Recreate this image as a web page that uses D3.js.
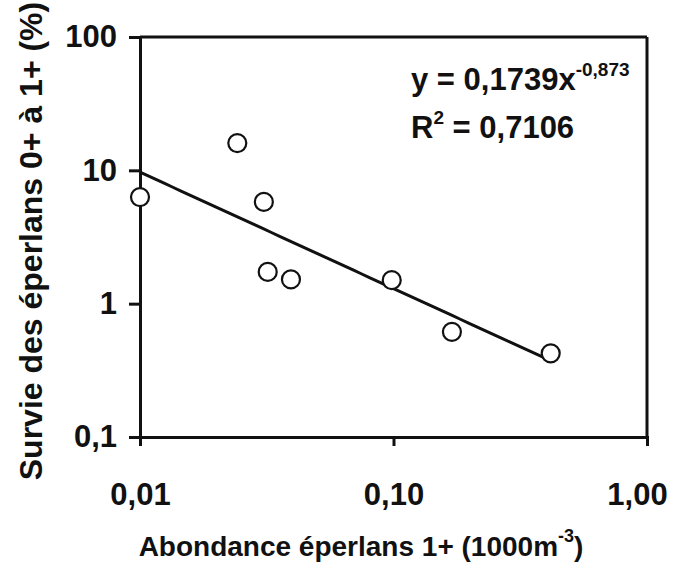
<!DOCTYPE html>
<html><head><meta charset="utf-8">
<script src="https://cdn.jsdelivr.net/npm/d3@7"></script>
<style>
body{margin:0;background:#fff;}
text{font-family:"Liberation Sans",Arial,Helvetica,sans-serif;font-weight:bold;fill:#111;}
</style></head>
<body>
<svg id="c" width="681" height="567"></svg>
<script>
const abundance = [0.0100, 0.0242, 0.0308, 0.0319, 0.0394, 0.0984, 0.170, 0.417];
const survival  = [6.3, 16.0, 5.8, 1.73, 1.52, 1.5, 0.615, 0.424];
const xTicks = [0.01, 0.1, 1];
const xTickLabels = ["0,01", "0,10", "1,00"];
const yTicks = [0.1, 1, 10, 100];
const yTickLabels = ["0,1", "1", "10", "100"];
const fitCoef = 0.1739, fitExp = -0.873;
const fitRange = [0.01, 0.417];

const svg = d3.select("#c");
const W = 681, H = 567;
const m = {left:140, top:37, right:34, bottom:130};
const x = d3.scaleLog().domain([0.01, 1]).range([m.left, W - m.right]);
const y = d3.scaleLog().domain([0.1, 100]).range([H - m.bottom, m.top]);

// frame (top and right)
svg.append("line").attr("x1", x(0.01)).attr("x2", x(1)).attr("y1", y(100)).attr("y2", y(100))
  .attr("stroke", "#111").attr("stroke-width", 3);
svg.append("line").attr("x1", x(1)).attr("x2", x(1)).attr("y1", y(100)).attr("y2", y(0.1))
  .attr("stroke", "#111").attr("stroke-width", 3);

// x axis
const gx = svg.append("g").attr("transform", `translate(0,${y(0.1)})`)
  .call(d3.axisBottom(x).tickValues(xTicks).tickSize(9).tickPadding(37)
    .tickFormat((d, i) => xTickLabels[i]));
gx.select(".domain").attr("stroke", "#111").attr("stroke-width", 3);
gx.selectAll(".tick line").attr("stroke", "#111").attr("stroke-width", 3);
gx.selectAll(".tick text").attr("font-size", 31).attr("fill", "#111")
  .attr("font-family", "Liberation Sans, Arial, sans-serif").attr("font-weight", "bold")
  .attr("dx", (d, i) => i === xTicks.length - 1 ? -10 : 0);

// y axis
const gy = svg.append("g").attr("transform", `translate(${x(0.01)},0)`)
  .call(d3.axisLeft(y).tickValues(yTicks).tickSize(11).tickPadding(12)
    .tickFormat((d, i) => yTickLabels[i]));
gy.select(".domain").attr("stroke", "#111").attr("stroke-width", 3);
gy.selectAll(".tick line").attr("stroke", "#111").attr("stroke-width", 3);
gy.selectAll(".tick text").attr("font-size", 31).attr("fill", "#111")
  .attr("font-family", "Liberation Sans, Arial, sans-serif").attr("font-weight", "bold");

// trend line
const fx = d3.range(0, 51).map(i => fitRange[0] * Math.pow(fitRange[1] / fitRange[0], i / 50));
svg.append("path")
  .datum(fx)
  .attr("d", d3.line().x(d => x(d)).y(d => y(fitCoef * Math.pow(d, fitExp))))
  .attr("fill", "none").attr("stroke", "#111").attr("stroke-width", 3);

// points
svg.selectAll("circle.pt").data(abundance).join("circle").attr("class", "pt")
  .attr("cx", d => x(d)).attr("cy", (d, i) => y(survival[i])).attr("r", 9)
  .attr("fill", "#fff").attr("stroke", "#111").attr("stroke-width", 2.2);

// equation
const eq = svg.append("text").attr("x", 411).attr("y", 90).attr("font-size", 31);
eq.append("tspan").text("y = 0,1739x");
eq.append("tspan").attr("font-size", 19).attr("dy", -14).text("-0,873");
const r2 = svg.append("text").attr("x", 411).attr("y", 138).attr("font-size", 31);
r2.append("tspan").text("R");
r2.append("tspan").attr("font-size", 19).attr("dy", -14).text("2");
r2.append("tspan").attr("dy", 14).text(" = 0,7106");

// x title
const xt = svg.append("text").attr("x", 361).attr("y", 556).attr("text-anchor", "middle").attr("font-size", 28);
xt.append("tspan").text("Abondance éperlans 1+ (1000m");
xt.append("tspan").attr("font-size", 18).attr("dy", -14).text("-3");
xt.append("tspan").attr("dy", 14).text(")");

// y title
svg.append("text").attr("transform", `translate(42,241) rotate(-90)`)
  .attr("text-anchor", "middle").attr("font-size", 32)
  .text("Survie des éperlans 0+ à 1+ (%)");
</script>
</body></html>
